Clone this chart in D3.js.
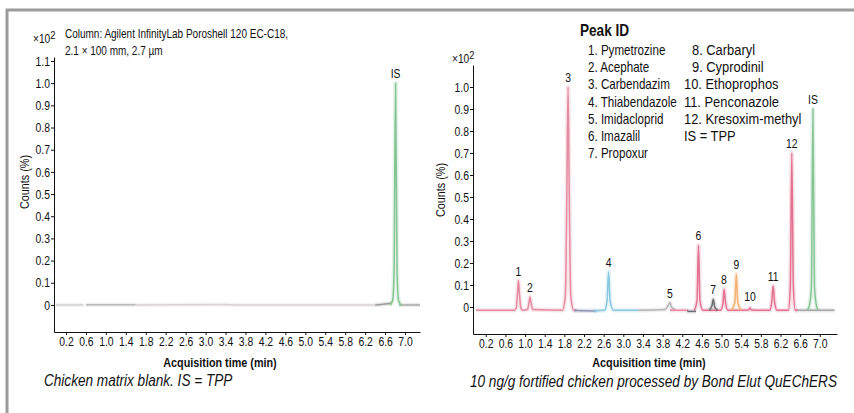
<!DOCTYPE html>
<html>
<head>
<meta charset="utf-8">
<script src="https://cdn.jsdelivr.net/npm/d3@7"></script>
<style>
  body { margin: 0; background: #fff; }
  svg { display: block; }
  text { font-family: 'Liberation Sans', Arial, sans-serif; fill: #111; }
</style>
</head>
<body>
<div id="chart"></div>
<script>
// tick labels
var xTicks = [0.2, 0.6, 1.0, 1.4, 1.8, 2.2, 2.6, 3.0, 3.4, 3.8, 4.2, 4.6, 5.0, 5.4, 5.8, 6.2, 6.6, 7.0];
var blankYTicks = [0, 0.1, 0.2, 0.3, 0.4, 0.5, 0.6, 0.7, 0.8, 0.9, 1.0, 1.1];
var spikedYTicks = [0, 0.1, 0.2, 0.3, 0.4, 0.5, 0.6, 0.7, 0.8, 0.9, 1.0];

// blank chromatogram, [time (min), counts x10^2]
var blankLead = [[0, 0], [0.55, 0]];
var blankEarly = [[0.6, 0.001], [1.6, 0.001]];
var blankMid = [[1.6, 0], [3.3, 0.002], [3.7, 0], [6.4, 0]];
var blankLate = [[6.4, 0], [6.6, 0.004], [6.72, 0.008]];
var blankIS = [[6.7, 0], [6.75, 0.02], [6.78, 0.15], [6.81, 1.0], [6.84, 0.15], [6.87, 0.02], [6.92, 0]];
var blankTail = [[6.88, 0], [7.3, 0]];

// spiked chromatogram segments
var spikedEarly = [[0, -0.015], [0.78, -0.015], [0.82, -0.005], [0.845, 0.06], [0.865, 0.12], [0.885, 0.06], [0.91, 0.0],
  [0.95, -0.015], [1.05, -0.012], [1.08, 0.02], [1.1, 0.045], [1.12, 0.02], [1.16, -0.012], [1.76, -0.015],
  [1.82, 0.05], [1.85, 0.5], [1.875, 1.0], [1.9, 0.5], [1.93, 0.05], [1.99, -0.015], [2.05, -0.015]];
var spikedSlate = [[2.0, -0.016], [2.45, -0.018]];
var spikedBlue = [[2.4, -0.017], [2.62, -0.015], [2.67, 0.03], [2.7, 0.16], [2.73, 0.03], [2.8, -0.015], [3.3, -0.015]];
var spikedGrey = [[3.3, -0.015], [3.85, -0.012], [3.92, 0.01], [3.95, 0.02], [3.98, 0.0], [4.05, -0.012]];
var spikedPinkGap = [[3.95, -0.015], [4.32, -0.015]];
var spikedDark = [[4.3, -0.02], [4.48, -0.02]];
var spikedMain = [[4.45, -0.015], [4.5, 0.03], [4.53, 0.28], [4.56, 0.03], [4.62, -0.015], [4.98, -0.015],
  [5.03, 0.02], [5.05, 0.08], [5.08, 0.02], [5.13, -0.015], [5.55, -0.014], [5.58, -0.005], [5.61, -0.014],
  [5.98, -0.015], [6.02, 0.02], [6.05, 0.095], [6.08, 0.02], [6.13, -0.015], [6.36, -0.015], [6.4, 0.1],
  [6.43, 0.7], [6.46, 0.1], [6.5, -0.015], [6.55, -0.015]];
var spikedP7 = [[4.75, -0.015], [4.81, 0.01], [4.83, 0.035], [4.86, 0.0], [4.92, -0.015]];
var spikedP9 = [[5.2, -0.015], [5.27, 0.02], [5.3, 0.15], [5.33, 0.02], [5.4, -0.015]];
var spikedTail = [[6.5, -0.015], [7.3, -0.015]];
var spikedIS = [[6.75, -0.015], [6.8, 0.02], [6.83, 0.1], [6.86, 0.9], [6.89, 0.1], [6.92, 0.02], [6.96, -0.015]];

// peak labels
var peakNames = ["1", "2", "3", "4", "5", "6", "7", "8", "9", "10", "11", "12", "IS"];
var peakTimes = [0.865, 1.1, 1.875, 2.7, 3.95, 4.53, 4.83, 5.05, 5.3, 5.58, 6.05, 6.43, 6.86];
var peakHeights = [0.12, 0.045, 1.0, 0.16, 0.02, 0.28, 0.035, 0.08, 0.15, 0.005, 0.095, 0.7, 0.9];

var peakIdLeft = ["1. Pymetrozine", "2. Acephate", "3. Carbendazim", "4. Thiabendazole", "5. Imidacloprid", "6. Imazalil", "7. Propoxur"];
var peakIdRight = ["8. Carbaryl", "9. Cyprodinil", "10. Ethoprophos", "11. Penconazole", "12. Kresoxim-methyl", "IS = TPP"];

var width = 854, height = 413;
var svg = d3.select("#chart").append("svg").attr("width", width).attr("height", height);

// frame
svg.append("path").attr("d", "M7,413V10H854").attr("fill", "none").attr("stroke", "#9b9b9b").attr("stroke-width", 3);

function panel(opts) {
  var x = d3.scaleLinear().domain(opts.xDomain).range(opts.xRange);
  var y = d3.scaleLinear().domain(opts.yDomain).range(opts.yRange);
  var g = svg.append("g");

  var line = d3.line()
    .x(function(d) { return x(d[0]); })
    .y(function(d) { return y(d[1]); })
    .curve(d3.curveMonotoneX);

  opts.traces.forEach(function(t, i) {
    // soft halo, then the trace itself
    g.append("path").datum(t).attr("d", line).attr("fill", "none")
      .attr("stroke", opts.colors[i]).attr("stroke-opacity", 0.22).attr("stroke-width", 4.5);
    g.append("path").datum(t).attr("d", line).attr("fill", "none")
      .attr("stroke", opts.colors[i]).attr("stroke-width", 1.5).attr("stroke-linejoin", "round");
  });

  var xAxis = g.append("g").attr("transform", "translate(0," + opts.yRange[0] + ")")
    .call(d3.axisBottom(x).tickValues(xTicks).tickFormat(d3.format(".1f")).tickSize(3).tickPadding(2).tickSizeOuter(0));
  var yAxis = g.append("g").attr("transform", "translate(" + opts.xRange[0] + ",0)")
    .call(d3.axisLeft(y).tickValues(opts.yTicks).tickFormat(function(d) { return d === 0 ? "0" : d3.format(".1f")(d); })
      .tickSize(3).tickPadding(1).tickSizeOuter(0));
  [xAxis, yAxis].forEach(function(a) {
    a.selectAll("text").style("font-size", "13px").attr("fill", "#111");
    a.selectAll("line,path").attr("stroke", "#111");
  });

  // x10^2
  var e = g.append("text").attr("data-k", 0.85).attr("x", opts.xRange[0] - 21).attr("y", opts.expY).style("font-size", "12px");
  e.append("tspan").text("\u00d710");
  e.append("tspan").attr("dy", -4).style("font-size", "11px").text("2");

  g.append("text").attr("transform", "translate(" + opts.yLabelX + "," + opts.yLabelY + ") rotate(-90)")
    .attr("text-anchor", "middle").style("font-size", "13.5px").text("Counts (%)");
  g.append("text").attr("x", (opts.xRange[0] + opts.xRange[1]) / 2 + opts.xLabelShift).attr("y", 367)
    .attr("text-anchor", "middle").style("font-size", "13.5px").style("font-weight", "bold").text("Acquisition time (min)");

  return { x: x, y: y, g: g };
}

var left = panel({
  xDomain: [-0.04, 7.3], xRange: [54, 420],
  yDomain: [-0.122, 1.118], yRange: [332, 57],
  yTicks: blankYTicks, expY: 43, yLabelX: 29, yLabelY: 182, xLabelShift: -17,
  traces: [blankLead, blankEarly, blankMid, blankLate, blankTail, blankIS],
  colors: ["#cfcfcf", "#b9b9b9", "#dccfd3", "#9c9c9c", "#a9a9a9", "#84c493"]
});
left.g.append("text").attr("x", left.x(6.81)).attr("y", left.y(1.0) - 5).attr("text-anchor", "middle")
  .style("font-size", "13px").text("IS");
left.g.append("text").attr("x", 65).attr("y", 38).style("font-size", "12.5px")
  .text("Column: Agilent InfinityLab Poroshell 120 EC-C18,");
left.g.append("text").attr("x", 65).attr("y", 55).style("font-size", "12.5px")
  .text("2.1 \u00d7 100 mm, 2.7 \u00b5m");

var right = panel({
  xDomain: [-0.06, 7.35], xRange: [473, 837],
  yDomain: [-0.123, 1.1], yRange: [334, 65],
  yTicks: spikedYTicks, expY: 63, yLabelX: 445, yLabelY: 190, xLabelShift: -6,
  traces: [spikedTail, spikedEarly, spikedSlate, spikedBlue, spikedGrey, spikedPinkGap, spikedDark, spikedMain, spikedP7, spikedP9, spikedIS],
  colors: ["#a6a6a6", "#e58aa0", "#8c8fb3", "#88c7e0", "#b4b4b4", "#e58aa0", "#6f6f7c", "#e37292", "#6f6f6f", "#f2b172", "#86c596"]
});
right.g.selectAll(".peak").data(peakNames).enter().append("text")
  .attr("x", function(d, i) { return right.x(peakTimes[i]); })
  .attr("y", function(d, i) { return right.y(peakHeights[i]) - 5; })
  .attr("text-anchor", "middle").style("font-size", "13px").text(function(d) { return d; });

// peak ID key
var key = svg.append("g");
key.append("text").attr("x", 580).attr("y", 36).attr("data-k", 0.85).style("font-size", "16px").style("font-weight", "bold").text("Peak ID");
key.selectAll(".k1").data(peakIdLeft).enter().append("text")
  .attr("x", 588).attr("y", function(d, i) { return 55 + i * 17.2; })
  .style("font-size", "14.5px").text(function(d) { return d; });
key.selectAll(".k2").data(peakIdRight).enter().append("text")
  .attr("x", function(d) { return /^\d\./.test(d) ? 692 : 684; })
  .attr("y", function(d, i) { return 55 + i * 17.2; })
  .attr("data-k", 0.86)
  .style("font-size", "15px").text(function(d) { return d; });

// captions
svg.append("text").attr("x", 44).attr("y", 386).style("font-size", "17px").style("font-style", "italic")
  .text("Chicken matrix blank. IS = TPP");
svg.append("text").attr("x", 470).attr("y", 387).style("font-size", "17px").style("font-style", "italic")
  .text("10 ng/g fortified chicken processed by Bond Elut QuEChERS");

// no narrow face installed: squeeze every label sideways like a condensed font
svg.selectAll("text").each(function() {
  var k = +(this.getAttribute("data-k") || 0.8);
  var x0 = +(this.getAttribute("x") || 0);
  var t = this.getAttribute("transform") || "";
  this.setAttribute("transform", t + " translate(" + x0 + ",0) scale(" + k + ",1) translate(" + (-x0) + ",0)");
});
</script>
</body>
</html>
